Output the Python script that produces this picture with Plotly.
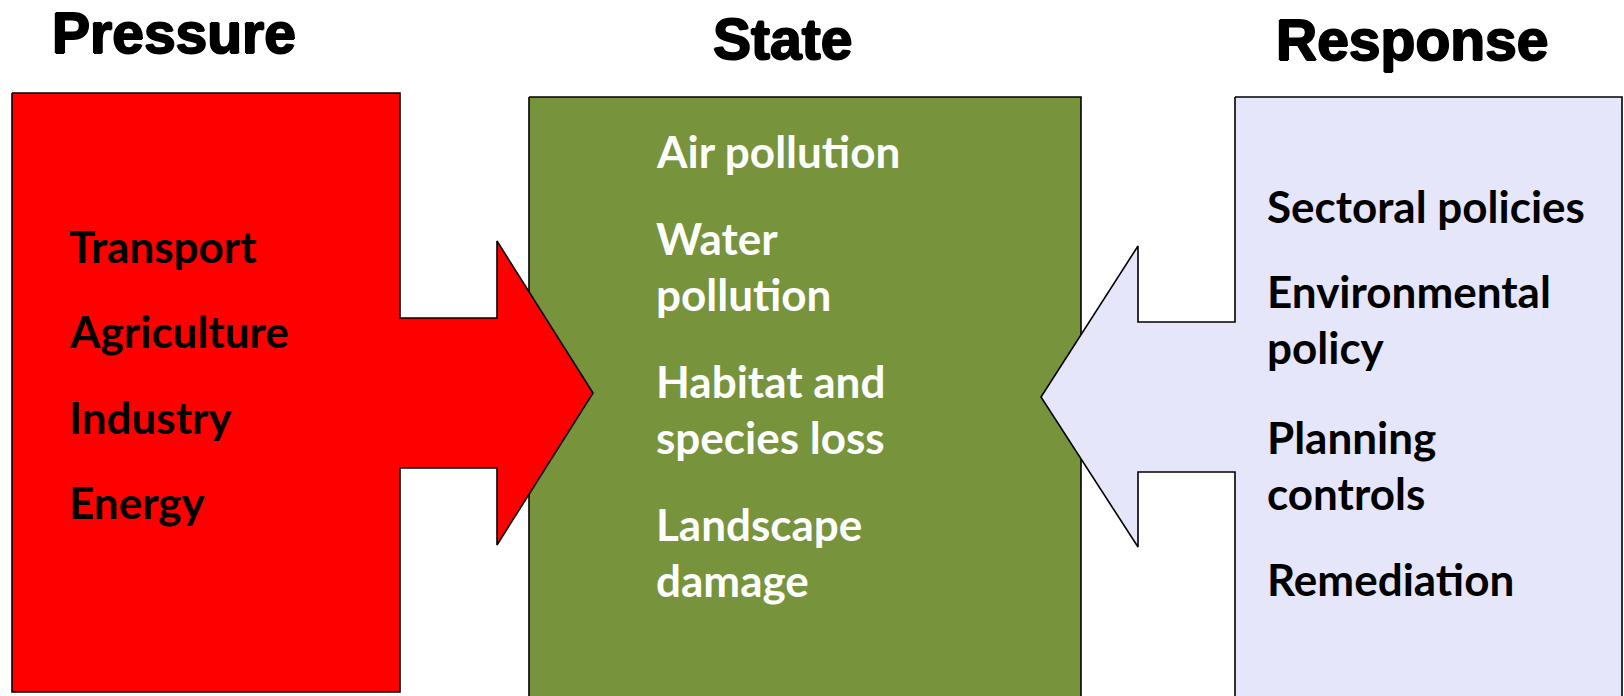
import plotly.graph_objects as go

# ---- data: texts ----
titles = ["Pressure", "State", "Response"]
pressure_items = ["Transport", "Agriculture", "Industry", "Energy"]
state_items = ["Air pollution", "Water<br>pollution", "Habitat and<br>species loss", "Landscape<br>damage"]
response_items = ["Sectoral policies", "Environmental<br>policy", "Planning<br>controls", "Remediation"]

# ---- shape outlines (pixel layout, y downwards) ----
pressure_x = [12, 400, 400, 497, 497, 593, 497, 497, 400, 400, 12, 12]
pressure_y = [93, 93, 318, 318, 241, 393, 545, 468, 468, 692, 692, 93]
state_x = [529, 1081, 1081, 529, 529]
state_y = [97, 97, 705, 705, 97]
response_x = [1235, 1622, 1622, 1235, 1235, 1138, 1138, 1041, 1138, 1138, 1235, 1235]
response_y = [97, 97, 705, 705, 472, 472, 547, 397, 246, 322, 322, 97]

# ---- layout constants ----
W, H = 1624, 696
title_x = [174, 782, 1412]
title_mid = [33, 39, 40]
pressure_text_x, state_text_x, response_text_x = 67, 654, 1265
pressure_base = [263, 348, 434, 519]
state_base = [168, 255, 398, 541]
response_base = [223, 308, 454, 596]
line_step = 56.5
body_size = 44
body_font = "Lato"
title_font = "Liberation Sans, Arial"
title_shadow = "1px 0 0 black, -1px 0 0 black, 0 1px 0 black, 0 -1px 0 black"

RED = "#FF0000"
GREEN = "#77933C"
LAV = "#E6E6FA"

fig = go.Figure()
for xs, ys, col in [(state_x, state_y, GREEN), (pressure_x, pressure_y, RED), (response_x, response_y, LAV)]:
    fig.add_trace(go.Scatter(x=xs, y=ys, mode="lines", fill="toself", fillcolor=col,
                             line=dict(color="black", width=1.6), hoverinfo="skip"))

ann = []
for t, x, ym in zip(titles, title_x, title_mid):
    ann.append(dict(x=x, y=ym, text=f"<b>{t}</b>", showarrow=False, xanchor="center", yanchor="middle",
                    font=dict(family=title_font, size=57, color="black", shadow=title_shadow)))

def add_items(items, bases, x0, color):
    for item, b in zip(items, bases):
        for k, line in enumerate(item.split("<br>")):
            base = b + k * line_step
            ann.append(dict(x=x0, y=base - 0.387 * body_size, text=f"<b>{line}</b>", showarrow=False,
                            xanchor="left", yanchor="middle",
                            font=dict(family=body_font, size=body_size, color=color)))

add_items(pressure_items, pressure_base, pressure_text_x, "black")
add_items(state_items, state_base, state_text_x, "white")
add_items(response_items, response_base, response_text_x, "black")

fig.update_layout(
    width=W, height=H, margin=dict(l=0, r=0, t=0, b=0),
    paper_bgcolor="white", plot_bgcolor="white", showlegend=False,
    xaxis=dict(range=[0, W], visible=False, fixedrange=True),
    yaxis=dict(range=[H, 0], visible=False, fixedrange=True),
    annotations=ann, hovermode=False,
)
fig.write_html("out.html", config={"displayModeBar": False},
               post_script="document.body.style.margin='0';document.body.style.overflow='hidden';")
